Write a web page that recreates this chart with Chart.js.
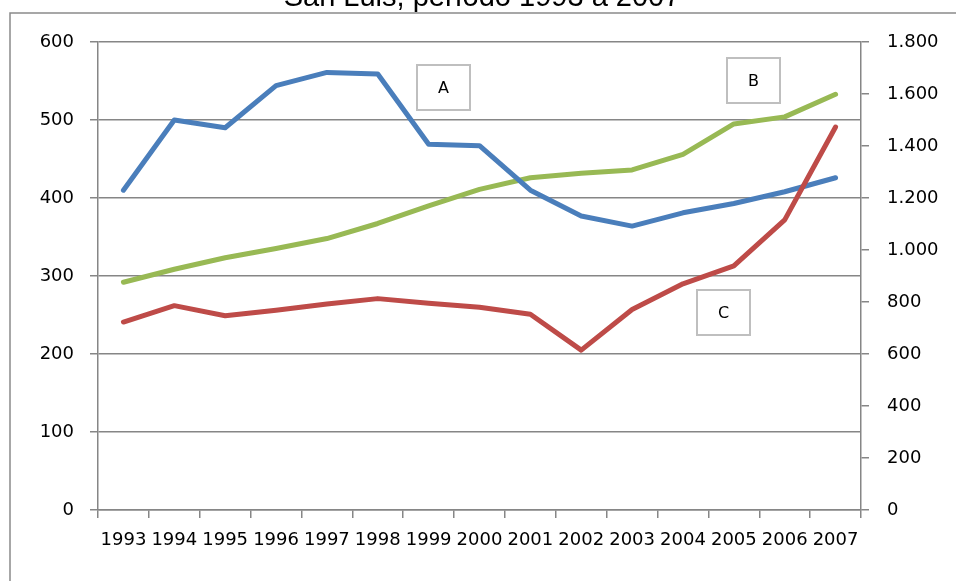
<!DOCTYPE html>
<html>
<head>
<meta charset="utf-8">
<script src="https://cdn.jsdelivr.net/npm/chart.js@4"></script>
<style>
  body { margin: 0; background: #fff; }
  #wrap { width: 956px; height: 581px; }
</style>
</head>
<body>
<div id="wrap"><canvas id="sanluis-chart" width="956" height="581"></canvas></div>
<script>
// data
const years = ["1993", "1994", "1995", "1996", "1997", "1998", "1999", "2000",
  "2001", "2002", "2003", "2004", "2005", "2006", "2007"];
const serieA = [410, 500, 490, 544, 561, 559, 469, 467, 410, 377, 364, 381, 393, 408, 426];
// B is read against the right-hand axis
const serieB = [876, 926, 970, 1006, 1044, 1102, 1170, 1233, 1278, 1295, 1308, 1368, 1485, 1512, 1599];
const serieC = [241, 262, 249, 256, 264, 271, 265, 260, 251, 205, 257, 290, 313, 372, 491];

const leftMax = 600, leftStep = 100;
const rightMax = 1800, rightStep = 200;

const gridColor = "#868686";
const tickFont = { family: "DejaVu Sans", size: 18 };

const thousands = (v) => String(v).replace(/\B(?=(\d{3})+(?!\d))/g, ".");

// title (cut off at the top) and the outer frame
const framePlugin = {
  id: "frame",
  beforeDraw(chart) {
    const ctx = chart.ctx;
    ctx.save();
    ctx.strokeStyle = "#8a8a8a";
    ctx.lineWidth = 1.5;
    ctx.beginPath();
    ctx.moveTo(10, chart.height);
    ctx.lineTo(10, 13);
    ctx.lineTo(chart.width, 13);
    ctx.stroke();
    ctx.fillStyle = "#000";
    ctx.font = "29px 'Liberation Sans', Arial, sans-serif";
    ctx.textAlign = "center";
    ctx.textBaseline = "alphabetic";
    ctx.fillText("San Luis, período 1993 a 2007", 482, 6);
    ctx.restore();
  }
};

// the A / B / C label boxes
const labelBoxes = [
  { text: "A", x: 417, y: 65, w: 53, h: 45 },
  { text: "B", x: 727, y: 58, w: 53, h: 45 },
  { text: "C", x: 697, y: 290, w: 53, h: 45 }
];
const boxPlugin = {
  id: "boxes",
  afterDatasetsDraw(chart) {
    const ctx = chart.ctx;
    ctx.save();
    labelBoxes.forEach((b) => {
      ctx.fillStyle = "#fff";
      ctx.fillRect(b.x, b.y, b.w, b.h);
      ctx.strokeStyle = "#bfbfbf";
      ctx.lineWidth = 2;
      ctx.strokeRect(b.x, b.y, b.w, b.h);
      ctx.fillStyle = "#000";
      ctx.font = "16px 'DejaVu Sans', sans-serif";
      ctx.textAlign = "center";
      ctx.textBaseline = "middle";
      ctx.fillText(b.text, b.x + b.w / 2, b.y + b.h / 2 + 1);
    });
    ctx.restore();
  }
};

const lineStyle = {
  borderWidth: 5,
  pointRadius: 0,
  pointHoverRadius: 0,
  tension: 0,
  borderCapStyle: "round",
  borderJoinStyle: "round",
  fill: false
};

const ctx = document.getElementById("sanluis-chart");
new Chart(ctx, {
  type: "line",
  data: {
    labels: years,
    datasets: [
      { ...lineStyle, label: "A", data: serieA, borderColor: "#4a7ebb", yAxisID: "y", order: 1 },
      { ...lineStyle, label: "B", data: serieB, borderColor: "#98b954", yAxisID: "y1", order: 2 },
      { ...lineStyle, label: "C", data: serieC, borderColor: "#be4b48", yAxisID: "y", order: 0 }
    ]
  },
  options: {
    responsive: false,
    animation: false,
    layout: { padding: { top: 42, left: 0, right: 0, bottom: 0 } },
    plugins: {
      legend: { display: false },
      title: { display: false },
      tooltip: { enabled: false }
    },
    scales: {
      x: {
        type: "category",
        offset: true,
        afterFit: (s) => { s.height = 71; },
        grid: {
          offset: true,
          drawOnChartArea: false,
          drawTicks: true,
          tickLength: 8,
          color: gridColor,
          lineWidth: 1.5
        },
        border: { display: true, color: gridColor, width: 1.5 },
        ticks: {
          autoSkip: false,
          maxRotation: 0,
          minRotation: 0,
          padding: 12,
          color: "#000",
          font: tickFont
        }
      },
      y: {
        position: "left",
        min: 0,
        max: leftMax,
        afterFit: (s) => { s.width = 98; },
        grid: { color: gridColor, lineWidth: 1.5, tickLength: 8 },
        border: { display: true, color: gridColor, width: 1.5 },
        ticks: { stepSize: leftStep, padding: 16, color: "#000", font: tickFont }
      },
      y1: {
        position: "right",
        min: 0,
        max: rightMax,
        afterFit: (s) => { s.width = 95; },
        grid: { drawOnChartArea: false, color: gridColor, lineWidth: 1.5, tickLength: 8 },
        border: { display: true, color: gridColor, width: 1.5 },
        ticks: {
          stepSize: rightStep,
          padding: 18,
          color: "#000",
          font: tickFont,
          callback: (v) => thousands(v)
        }
      }
    }
  },
  plugins: [framePlugin, boxPlugin]
});
</script>
</body>
</html>
